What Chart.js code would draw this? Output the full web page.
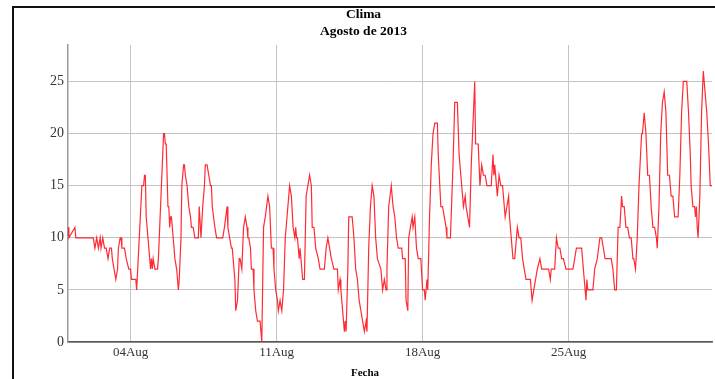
<!DOCTYPE html>
<html>
<head>
<meta charset="utf-8">
<script src="https://cdn.jsdelivr.net/npm/chart.js@4/dist/chart.umd.min.js"></script>
<style>
  html, body { margin: 0; padding: 0; background: #fff; overflow: hidden; }
  #frame { position: absolute; left: 12px; top: 6px; width: 800px; height: 500px;
    border-left: 2px solid #111; border-top: 2px solid #111; }
  #wrap { position: absolute; left: 15px; top: 0; width: 700px; height: 379px; }
</style>
</head>
<body>
<div id="frame"></div>
<div id="wrap"><canvas id="clima"></canvas></div>
<script>
// hours since 01 Aug 2013 00:00, temperature
const hours = [
  0, 1, 8, 9, 29, 31, 33, 35, 37, 38,
  40, 42, 44, 46, 48, 50, 51, 53, 55, 57,
  58, 60, 61, 62, 65, 67, 70, 72, 73, 78,
  79, 85, 87, 88, 89, 90, 92, 94, 95, 96,
  97, 98, 100, 103, 104, 110, 111, 112, 113, 115,
  116, 117, 118, 119, 121, 123, 125, 126, 127, 128,
  130, 131, 133, 134, 135, 137, 139, 141, 142, 144,
  146, 150, 151, 153, 155, 157, 158, 160, 162, 164,
  165, 166, 169, 171, 178, 180, 183, 184, 186, 188,
  189, 190, 192, 193, 195, 196, 197, 198, 200, 202,
  204, 206, 207, 208, 210, 211, 213, 214, 216, 218,
  221, 223, 225, 227, 230, 232, 234, 236, 237, 239,
  241, 242, 244, 246, 248, 250, 253, 255, 257, 259,
  261, 262, 263, 264, 266, 267, 269, 270, 272, 274,
  276, 278, 280, 281, 283, 285, 288, 290, 295, 297,
  299, 301, 303, 306, 310, 311, 313, 314, 316, 318,
  319, 320, 322, 323, 327, 329, 331, 333, 335, 337,
  339, 341, 343, 344, 346, 348, 350, 352, 354, 356,
  360, 362, 364, 366, 367, 369, 372, 374, 376, 378,
  380, 384, 385, 388, 389, 391, 392, 394, 396, 397,
  399, 401, 403, 406, 408, 410, 411, 413, 414, 416,
  418, 420, 422, 425, 426, 429, 431, 433, 435, 436,
  440, 443, 445, 448, 450, 453, 455, 457, 458, 460,
  462, 464, 468, 469, 472, 474, 476, 478, 480, 482,
  487, 489, 490, 491, 494, 495, 496, 498, 500, 502,
  503, 505, 507, 508, 510, 512, 514, 515, 517, 519,
  521, 523, 525, 527, 532, 534, 536, 538, 540, 543,
  545, 553, 555, 556, 560, 562, 564, 566, 568, 570,
  573, 581, 583, 585, 591, 593, 594, 596, 597, 598,
  604, 606, 609, 612, 614, 616, 618, 625, 627, 629,
  631, 633, 635, 637, 638, 640, 642, 644, 646, 648,
  650, 651, 653, 655, 657, 660, 661, 663, 665, 667,
  669, 671, 673, 675, 677, 678, 680, 682, 684, 686,
  688, 690, 692, 694, 696, 698, 702, 704, 706, 708,
  712, 714, 716, 717, 719, 721, 722, 723, 724, 725,
  727, 729, 731, 733, 735, 737, 739, 741,
];
const temps = [
  11, 10, 11, 10, 10, 9, 10, 9, 10, 9,
  10, 9, 9, 8, 9, 9, 8, 7, 6, 7,
  9, 10, 10, 9, 9, 8, 7, 7, 6, 6,
  5, 15, 15, 16, 16, 12, 10, 8, 7, 8,
  7, 8, 7, 7, 8, 20, 20, 19, 19, 13,
  13, 11, 12, 12, 10, 8, 7, 6, 5, 6,
  10, 15, 17, 17, 16, 15, 13, 12, 11, 11,
  10, 10, 13, 10, 13, 15, 17, 17, 16, 15,
  15, 13, 11, 10, 10, 11, 13, 11, 10, 9,
  9, 8, 6, 3, 4, 6, 8, 8, 7, 11,
  12, 11, 10, 10, 9, 7, 7, 5, 3, 2,
  2, 0, 11, 12, 14, 13, 9, 9, 7, 5,
  4, 3, 4, 3, 5, 10, 13, 15, 14, 11,
  10, 11, 10, 10, 8, 9, 7, 6, 6, 14,
  15, 16, 15, 11, 11, 9, 8, 7, 7, 9,
  10, 9, 8, 7, 7, 5, 6, 5, 3, 1,
  2, 1, 7, 12, 12, 10, 7, 6, 4, 3,
  2, 1, 2, 1, 9, 13, 15, 14, 10, 8,
  7, 5, 6, 5, 7, 13, 15, 13, 12, 10,
  9, 9, 8, 8, 4, 3, 10, 11, 12, 11,
  12, 9, 8, 8, 5, 5, 4, 6, 5, 12,
  17, 20, 21, 21, 18, 13, 13, 12, 11, 10,
  10, 17, 23, 23, 18, 15, 13, 14, 13, 12,
  11, 17, 25, 19, 19, 15, 17, 16, 16, 15,
  15, 18, 16, 17, 14, 15, 16, 15, 15, 13,
  12, 13, 14, 12, 10, 8, 8, 9, 11, 10,
  10, 8, 7, 6, 6, 4, 5, 6, 7, 8,
  7, 7, 6, 7, 7, 10, 9, 9, 8, 8,
  7, 7, 8, 9, 9, 7, 6, 4, 6, 5,
  5, 7, 8, 10, 10, 9, 8, 8, 7, 5,
  5, 11, 11, 14, 13, 13, 11, 11, 10, 10,
  8, 8, 7, 10, 15, 20, 20, 22, 20, 16,
  16, 13, 11, 11, 10, 9, 13, 20, 23, 24,
  22, 16, 16, 14, 14, 12, 12, 16, 22, 25,
  25, 22, 18, 15, 13, 13, 12, 13, 11, 10,
  14, 22, 26, 24, 22, 19, 15, 15,
];
const tickHours = [72, 240, 408, 576];
const tickLabels = ["04Aug", "11Aug", "18Aug", "25Aug"];
const yTicks = [0, 5, 10, 15, 20, 25];
const title = "Clima";
const subtitle = "Agosto de 2013";
const xTitle = "Fecha";

const serif = "'Liberation Serif', 'Times New Roman', serif";

// axis title sits under the middle of the frame, not of the plot
const fechaLabel = {
  id: "fechaLabel",
  afterDraw(chart) {
    const ctx = chart.ctx;
    ctx.save();
    ctx.font = "bold 11px " + serif;
    ctx.fillStyle = "#000";
    ctx.textAlign = "center";
    ctx.textBaseline = "middle";
    ctx.fillText(xTitle, chart.width / 2, chart.height - 6);
    ctx.restore();
  },
};

new Chart(document.getElementById("clima"), {
  type: "line",
  data: {
    datasets: [
      {
        label: "Temperatura",
        data: hours.map((h, i) => ({ x: h, y: temps[i] })),
        borderColor: "rgba(255,20,30,0.9)",
        borderWidth: 1.2,
        pointRadius: 0,
        tension: 0,
        fill: false,
      },
    ],
  },
  options: {
    responsive: true,
    maintainAspectRatio: false,
    animation: false,
    layout: { padding: { left: 0, right: 3, top: 0, bottom: 15.4 } },
    plugins: {
      legend: { display: false },
      tooltip: { enabled: false },
      title: {
        display: true,
        text: title,
        color: "#000",
        font: { family: serif, size: 13.5, weight: "bold" },
        padding: { top: 6, bottom: 0 },
      },
      subtitle: {
        display: true,
        text: subtitle,
        color: "#000",
        font: { family: serif, size: 13.5, weight: "bold" },
        padding: { top: 1, bottom: 5.6 },
      },
    },
    scales: {
      x: {
        type: "linear",
        min: 0,
        max: 741,
        afterBuildTicks: (scale) => {
          scale.ticks = tickHours.map((v) => ({ value: v }));
        },
        ticks: {
          callback: (value, index) => tickLabels[index],
          color: "#333",
          font: { family: serif, size: 13 },
          padding: 3,
          maxRotation: 0,
          autoSkip: false,
        },
        grid: { color: "#c4c4c4", lineWidth: 1, drawTicks: false },
        border: { color: "#555", width: 1.5 },
      },
      y: {
        min: 0,
        max: 28.5,
        afterBuildTicks: (scale) => {
          scale.ticks = yTicks.map((v) => ({ value: v }));
        },
        afterFit: (scale) => {
          scale.width = 53;
        },
        ticks: {
          color: "#333",
          font: { family: serif, size: 14 },
          padding: 4,
        },
        grid: { color: "#c4c4c4", lineWidth: 1, drawTicks: false },
        border: { color: "#999", width: 1.5 },
      },
    },
  },
  plugins: [fechaLabel],
});
</script>
</body>
</html>
